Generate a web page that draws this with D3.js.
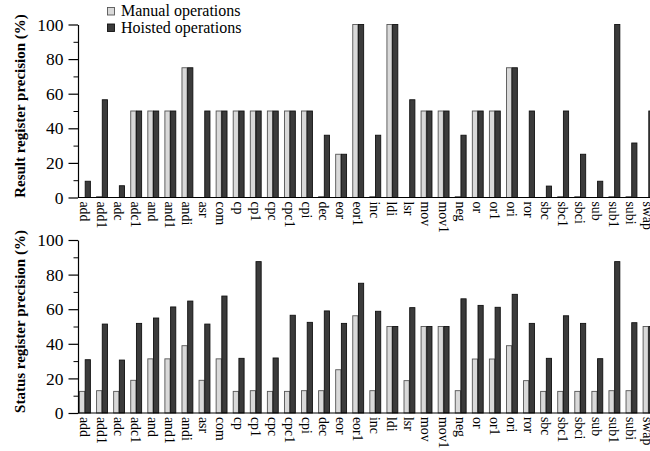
<!DOCTYPE html>
<html>
<head>
<meta charset="utf-8">
<script src="https://cdn.jsdelivr.net/npm/d3@7"></script>
<style>
  html, body { margin: 0; padding: 0; background: #fff; }
  svg { display: block; font-family: "Liberation Serif", "Times New Roman", serif; }
</style>
</head>
<body>
<div id="chart"></div>
<script>
// instruction names along the x axis
const categories = ['add', 'add1', 'adc', 'adc1', 'and', 'and1', 'andi', 'asr', 'com', 'cp',
  'cp1', 'cpc', 'cpc1', 'cpi', 'dec', 'eor', 'eor1', 'inc', 'ldi', 'lsr', 'mov', 'mov1', 'neg',
  'or', 'or1', 'ori', 'ror', 'sbc', 'sbc1', 'sbci', 'sub', 'sub1', 'subi', 'swap'];

const seriesNames = ['Manual operations', 'Hoisted operations'];

// result register precision (%)
const resultManual = [0, 0.5, 0, 50, 50, 50, 75, 0, 50, 50, 50, 50, 50, 50, 0.5, 25, 100, 0.5,
  100, 0, 50, 50, 0.5, 50, 50, 75, 0, 0, 0.5, 0.5, 0, 0.5, 0.5, 0];
const resultHoisted = [9.4, 56.5, 6.8, 50, 50, 50, 75, 50, 50, 50, 50, 50, 50, 50, 36, 25, 100, 36,
  100, 56.5, 50, 50, 36, 50, 50, 75, 50, 6.6, 50, 25, 9.4, 100, 31.5, 50];

// status register precision (%)
const statusManual = [12.5, 12.9, 12.5, 18.9, 31.3, 31.3, 38.9, 18.9, 31.3, 12.5, 12.9, 12.5, 12.5,
  12.9, 12.9, 25, 56.2, 12.9, 50, 18.7, 50, 50, 12.9, 31.2, 31.2, 38.9, 18.7, 12.5, 12.5, 12.5,
  12.5, 12.9, 12.9, 50];
const statusHoisted = [30.8, 51.4, 30.6, 51.8, 54.9, 61.3, 64.7, 51.4, 67.6, 31.6, 87.5, 31.8, 56.5,
  52.4, 59, 51.8, 75, 58.8, 50, 60.9, 50, 50, 66, 62.2, 61.1, 68.6, 51.8, 31.6, 56.2, 51.8, 31.4,
  87.5, 52.2, 50];

const yTicks = [0, 20, 40, 60, 80, 100];

const width = 650, height = 451;
const colors = { fill: ['#d9d9d9', '#3b3b3b'], stroke: ['#555', '#111'] };

const svg = d3.select('#chart').append('svg')
  .attr('width', width)
  .attr('height', height);

svg.append('rect').attr('width', width).attr('height', height).attr('fill', '#fff');

// shared x scale - the last group runs off the right edge like the original
const x0 = d3.scaleBand()
  .domain(categories)
  .range([79, 654])
  .paddingInner(0.333)
  .paddingOuter(0);

const x1 = d3.scaleBand()
  .domain([0, 1])
  .range([0, x0.bandwidth()]);

function drawPanel(top, bottom, manual, hoisted, title) {
  const axisX = 78;
  const y = d3.scaleLinear().domain([0, 100]).range([bottom, top]);
  const g = svg.append('g');

  // bars
  const rows = categories.map((c, i) => ({ cat: c, vals: [manual[i], hoisted[i]] }));
  const groups = g.selectAll('.grp')
    .data(rows)
    .join('g')
    .attr('class', 'grp')
    .attr('transform', d => `translate(${x0(d.cat)},0)`);

  groups.selectAll('rect')
    .data(d => d.vals.map((v, k) => ({ v, k })))
    .join('rect')
    .attr('x', d => x1(d.k) + 0.5)
    .attr('y', d => y(d.v))
    .attr('width', x1.bandwidth() - 0.5)
    .attr('height', d => y(0) - y(d.v))
    .attr('fill', d => colors.fill[d.k])
    .attr('stroke', d => colors.stroke[d.k])
    .attr('stroke-width', 0.9);

  // y axis with minor ticks every 10
  g.append('g')
    .attr('transform', `translate(${axisX},0)`)
    .call(d3.axisLeft(y).tickValues(d3.range(10, 100, 20)).tickSize(4.5).tickFormat(''))
    .call(a => a.select('.domain').remove());

  const yAxis = g.append('g')
    .attr('transform', `translate(${axisX},0)`)
    .call(d3.axisLeft(y).tickValues(yTicks).tickSize(9.5).tickPadding(5).tickSizeOuter(0));
  yAxis.selectAll('text')
    .attr('font-family', '"Liberation Serif", serif')
    .attr('font-size', 17.5)
    .attr('fill', '#000');
  yAxis.selectAll('line, path').attr('stroke', '#000').attr('stroke-width', 1.2);

  // baseline
  g.append('line')
    .attr('x1', axisX).attr('x2', width)
    .attr('y1', y(0)).attr('y2', y(0))
    .attr('stroke', '#000').attr('stroke-width', 1.2);

  // rotated category labels
  g.selectAll('.xlab')
    .data(categories)
    .join('text')
    .attr('class', 'xlab')
    .attr('transform', d => `translate(${x0(d) + x0.bandwidth() / 2},${y(0) + 4}) rotate(90)`)
    .attr('dy', '0.35em')
    .attr('font-size', 13.8)
    .attr('text-anchor', 'start')
    .text(d => d);

  // axis title
  g.append('text')
    .attr('transform', `translate(25,${(top + bottom) / 2 - 5}) rotate(-90)`)
    .attr('text-anchor', 'middle')
    .attr('font-size', 15)
    .attr('font-weight', 'bold')
    .text(title);
}

drawPanel(24.5, 197.5, resultManual, resultHoisted, 'Result register precision (%)');
drawPanel(240, 413, statusManual, statusHoisted, 'Status register precision (%)');

// legend
const legend = svg.append('g').attr('transform', 'translate(107,7)');
const items = legend.selectAll('g')
  .data(seriesNames)
  .join('g')
  .attr('transform', (d, i) => `translate(0,${i * 16.5})`);
items.append('rect')
  .attr('x', 0.5).attr('y', 0.5)
  .attr('width', 7).attr('height', 7.5)
  .attr('fill', (d, i) => colors.fill[i])
  .attr('stroke', (d, i) => colors.stroke[i])
  .attr('stroke-width', 0.9);
items.append('text')
  .attr('x', 14).attr('y', 9)
  .attr('font-size', 16)
  .text(d => d);
</script>
</body>
</html>
